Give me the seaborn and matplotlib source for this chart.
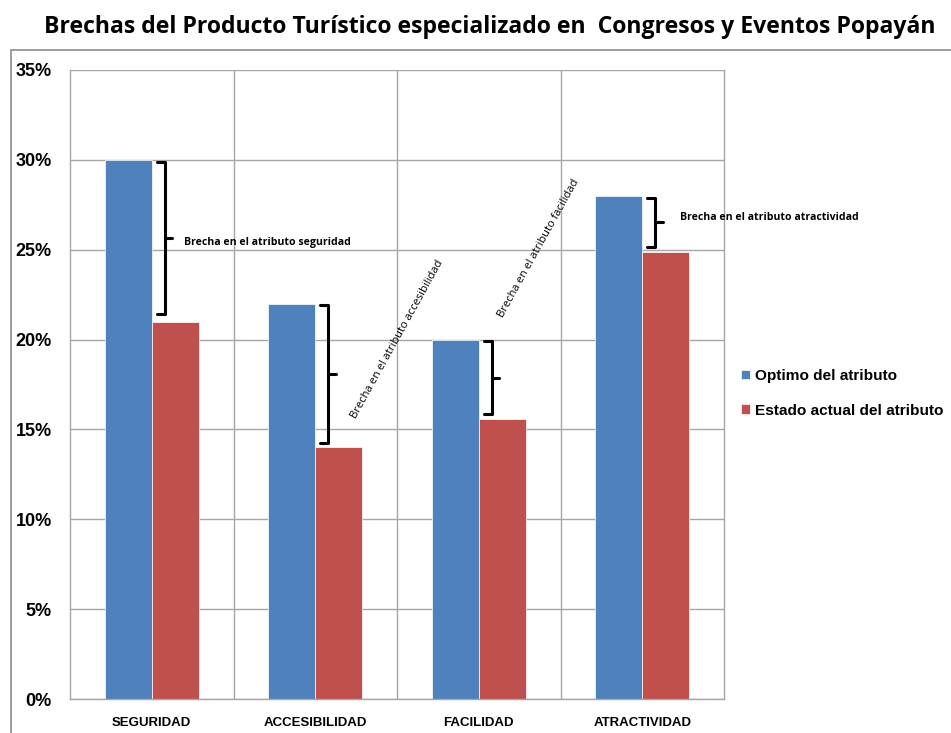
import matplotlib
matplotlib.use("Agg")
import matplotlib.pyplot as plt
import seaborn as sns
import pandas as pd
from matplotlib.patches import Rectangle

categorias = ["SEGURIDAD", "ACCESIBILIDAD", "FACILIDAD", "ATRACTIVIDAD"]
optimo = [30, 22, 20, 28]
actual = [21, 14, 15.6, 24.9]
series = ["Optimo del atributo", "Estado actual del atributo"]
brechas = ["Brecha en el atributo seguridad", "Brecha en el atributo accesibilidad",
           "Brecha en el atributo facilidad", "Brecha en el atributo atractividad"]
yticks = [0, 5, 10, 15, 20, 25, 30, 35]

df = pd.DataFrame({
    "categoria": categorias * 2,
    "serie": [series[0]] * 4 + [series[1]] * 4,
    "valor": optimo + actual,
})

sns.set_style("white")
plt.rcParams["text.color"] = "black"
plt.rcParams["xtick.labelcolor"] = "black"
plt.rcParams["ytick.labelcolor"] = "black"
narrow = ["Liberation Sans Narrow", "Liberation Sans", "DejaVu Sans"]
title_font = ["Open Sans", "DejaVu Sans"]
note_font = ["Open Sans", "DejaVu Sans"]

fig = plt.figure(figsize=(9.51, 7.33), dpi=100)
ax = fig.add_axes([70 / 951, 1 - 699 / 733, 654 / 951, 629 / 733])

sns.barplot(data=df, x="categoria", y="valor", hue="serie", order=categorias,
            hue_order=series, palette=["#4F81BD", "#C0504D"], width=0.575,
            saturation=1, ax=ax, legend=True, edgecolor="white", linewidth=0.5)

ax.set_xlim(-0.5, 3.5)
ax.set_ylim(0, 35)
ax.set_yticks(yticks)
ax.set_yticklabels([f"{t}%" for t in yticks], fontsize=13, fontweight="bold", family=narrow)
ax.set_xticks(range(4))
ax.set_xticklabels(categorias, fontsize=9.5, fontweight="bold", family=narrow)
ax.set_xticks([0.5, 1.5, 2.5], minor=True)
ax.tick_params(axis="x", which="major", length=0, pad=13)
ax.tick_params(axis="x", which="minor", length=5, color="#999999", direction="out")
ax.tick_params(axis="y", length=7, color="#999999", direction="out", pad=6)
ax.set_xlabel("")
ax.set_ylabel("")
ax.grid(axis="y", color="#a6a6a6", linewidth=1)
ax.grid(axis="x", which="minor", color="#a6a6a6", linewidth=1)
ax.set_axisbelow(True)
for s in ax.spines.values():
    s.set_color("#a6a6a6")
    s.set_linewidth(1)
ax.spines["top"].set_visible(False)

# llaves entre las dos barras de cada categoria
for i in range(4):
    top, bot = optimo[i], actual[i]
    x0 = i + 0.03
    x1 = i + 0.08
    if i == 0:
        bot = actual[i] + 0.2
    ys = [top - 0.1, bot + 0.25]
    mid = (ys[0] + ys[1]) / 2
    ax.plot([x0, x1, x1, x0], [ys[0], ys[0], ys[1], ys[1]], color="black", lw=2.2,
            solid_joinstyle="round", solid_capstyle="round")
    ax.plot([x1, x1 + 0.045], [mid, mid], color="black", lw=2.2, solid_capstyle="round")

ax.text(0.2, 25.4, brechas[0], fontsize=7.6, fontweight="bold",
        family=note_font, va="center", ha="left")
ax.text(1.5, 20.0, brechas[1], fontsize=8, family=note_font, rotation=61,
        rotation_mode="anchor", ha="center", va="center")
ax.text(2.37, 25.1, brechas[2], fontsize=8, family=note_font, rotation=61,
        rotation_mode="anchor", ha="center", va="center")
ax.text(3.23, 26.8, brechas[3], fontsize=7.6, fontweight="bold",
        family=note_font, va="center", ha="left")

ax.legend(loc="center left", bbox_to_anchor=(1.005, 0.486), frameon=False,
          prop={"family": narrow, "weight": "bold", "size": 11.1},
          handlelength=0.6, handleheight=0.6, handletextpad=0.3, labelspacing=1.35)

fig.text(490 / 951, 1 - 27 / 733, "Brechas del Producto Turístico especializado en  Congresos y Eventos Popayán",
         ha="center", va="center", fontsize=16.6, fontweight="bold", family=title_font)

fig.patches.append(Rectangle((11 / 951, -0.01), 1.0, 1 - 50 / 733 + 0.01, transform=fig.transFigure,
                             fill=False, edgecolor="#8c8c8c", linewidth=1.2))

fig.savefig("out.png", dpi=100)
